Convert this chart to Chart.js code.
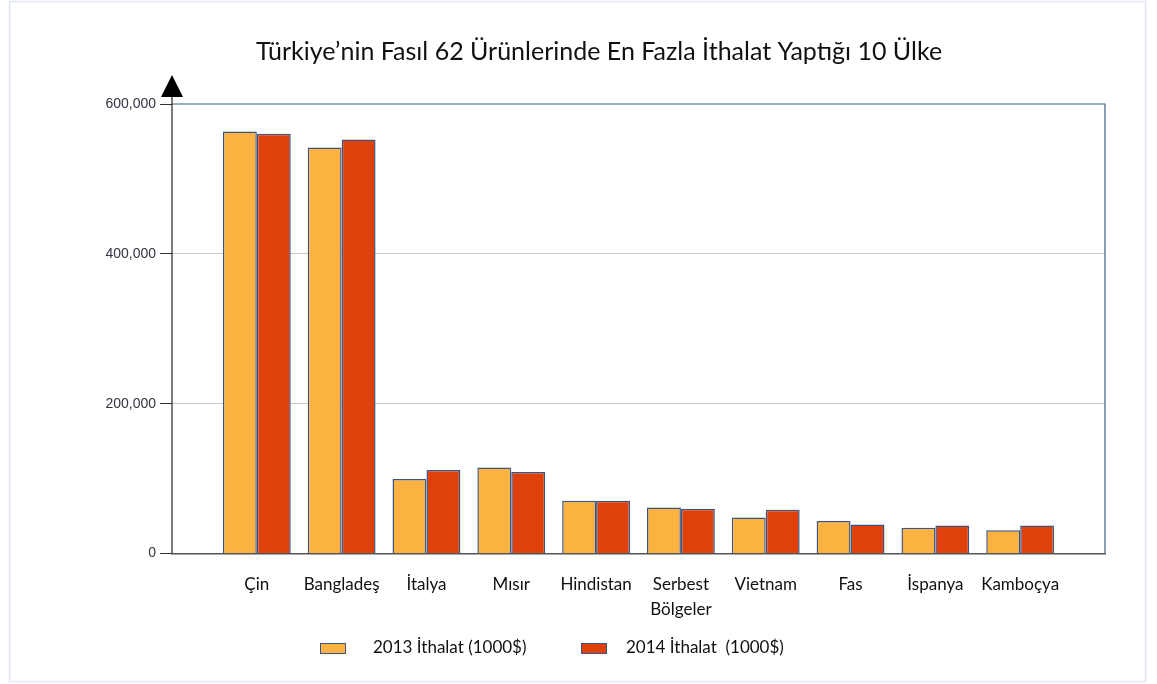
<!DOCTYPE html>
<html>
<head>
<meta charset="utf-8">
<script src="https://cdn.jsdelivr.net/npm/chart.js@4.4.1/dist/chart.umd.min.js"></script>
<style>
    html, body { margin: 0; padding: 0; background: #ffffff; }
    #wrap { width: 1157px; height: 684px; position: relative; }
</style>
</head>
<body>
<div id="wrap"><canvas id="chart" width="1157" height="684"></canvas></div>
<script>
const TITLE = "Türkiye’nin Fasıl 62 Ürünlerinde En Fazla İthalat Yaptığı 10 Ülke";

const countries = ["Çin", "Bangladeş", "İtalya", "Mısır", "Hindistan", ["Serbest", "Bölgeler"], "Vietnam", "Fas", "İspanya", "Kamboçya"];
const import2013 = [563400, 542000, 99300, 114800, 70400, 61400, 48100, 43300, 34300, 31200];
const import2014 = [560300, 552700, 111300, 108700, 70400, 59700, 58300, 38700, 37400, 37400];
const yTicks = [0, 200000, 400000, 600000];

const seriesLabels = ["2013 İthalat (1000$)", "2014 İthalat  (1000$)"];
const seriesColors = ["#fbb240", "#e0410b"];
const barBorder = "#3c5580";

// empty slot on each side so the groups sit half a slot away from the frame
const labels = [""].concat(countries, [""]);
const pad = (arr) => [null].concat(arr, [null]);

const labelFont = "Lato, 'Open Sans', sans-serif";

const framePlugin = {
    id: "frame",
    afterDraw(chart) {
        const ctx = chart.ctx;
        const area = chart.chartArea;
        ctx.save();

        // outer light frame
        ctx.strokeStyle = "#dde6f1";
        ctx.lineWidth = 1.5;
        ctx.strokeRect(9.5, 1.5, 1136, 680);

        // top and right border of plot
        ctx.strokeStyle = "#3e5f90";
        ctx.lineWidth = 1.2;
        ctx.beginPath();
        ctx.moveTo(area.left, area.top);
        ctx.lineTo(area.right, area.top);
        ctx.lineTo(area.right, area.bottom);
        ctx.stroke();

        // y axis with arrow head
        ctx.strokeStyle = "#222222";
        ctx.lineWidth = 1.2;
        ctx.beginPath();
        ctx.moveTo(area.left, area.bottom);
        ctx.lineTo(area.left, area.top - 8);
        ctx.stroke();
        ctx.fillStyle = "#000000";
        ctx.beginPath();
        ctx.moveTo(area.left, area.top - 29);
        ctx.lineTo(area.left - 11, area.top - 7);
        ctx.lineTo(area.left + 11, area.top - 7);
        ctx.closePath();
        ctx.fill();

        // legend
        const boxes = [320, 581];
        const texts = [373, 626];
        ctx.font = "17px " + labelFont;
        ctx.textBaseline = "middle";
        ctx.textAlign = "left";
        chart.data.datasets.forEach((ds, i) => {
            ctx.fillStyle = ds.backgroundColor;
            ctx.fillRect(boxes[i], 643, 26, 10);
            ctx.strokeStyle = barBorder;
            ctx.lineWidth = 1;
            ctx.strokeRect(boxes[i] + 0.5, 643.5, 25, 10);
            ctx.fillStyle = "#111111";
            ctx.fillText(ds.label, texts[i], 648);
        });

        ctx.restore();
    }
};

const ctx = document.getElementById("chart").getContext("2d");

const chart = new Chart(ctx, {
    type: "bar",
    data: {
        labels: labels,
        datasets: [
            {
                label: seriesLabels[0],
                data: pad(import2013),
                backgroundColor: seriesColors[0],
                borderColor: barBorder,
                borderWidth: 1.5
            },
            {
                label: seriesLabels[1],
                data: pad(import2014),
                backgroundColor: seriesColors[1],
                borderColor: barBorder,
                borderWidth: 1.5
            }
        ]
    },
    options: {
        responsive: false,
        animation: false,
        layout: {
            padding: { left: 93, right: 52, top: 0, bottom: 0 }
        },
        plugins: {
            legend: { display: false },
            tooltip: { enabled: false },
            title: {
                display: true,
                text: TITLE,
                color: "#111111",
                font: { family: labelFont, size: 25, weight: "normal", lineHeight: 1.2 },
                padding: { top: 37, bottom: 37 }
            }
        },
        datasets: {
            bar: {
                categoryPercentage: 0.8,
                barPercentage: 1.0
            }
        },
        scales: {
            x: {
                offset: false,
                grid: { display: false, drawTicks: false },
                border: { display: true, color: "#555555", width: 1.5 },
                ticks: {
                    color: "#111111",
                    font: { family: labelFont, size: 17, lineHeight: 1.5 },
                    padding: 18,
                    maxRotation: 0,
                    autoSkip: false
                },
                afterFit(scale) {
                    scale.height = 130.5;
                }
            },
            y: {
                min: 0,
                max: 600000,
                afterBuildTicks(scale) {
                    scale.ticks = yTicks.map((v) => ({ value: v }));
                },
                grid: {
                    color: (c) => (c.tick && (c.tick.value === 0 || c.tick.value === 600000)) ? "rgba(0,0,0,0)" : "#c8c8c8",
                    tickColor: "#333333",
                    tickLength: 12,
                    lineWidth: 1
                },
                border: { display: false },
                ticks: {
                    color: "#333344",
                    font: { family: "'Liberation Sans', Arial, sans-serif", size: 14 },
                    padding: 4,
                    callback: (v) => v.toLocaleString("en-US")
                },
                afterFit(scale) {
                    scale.width = 79;
                }
            }
        }
    },
    plugins: [framePlugin]
});
</script>
</body>
</html>
